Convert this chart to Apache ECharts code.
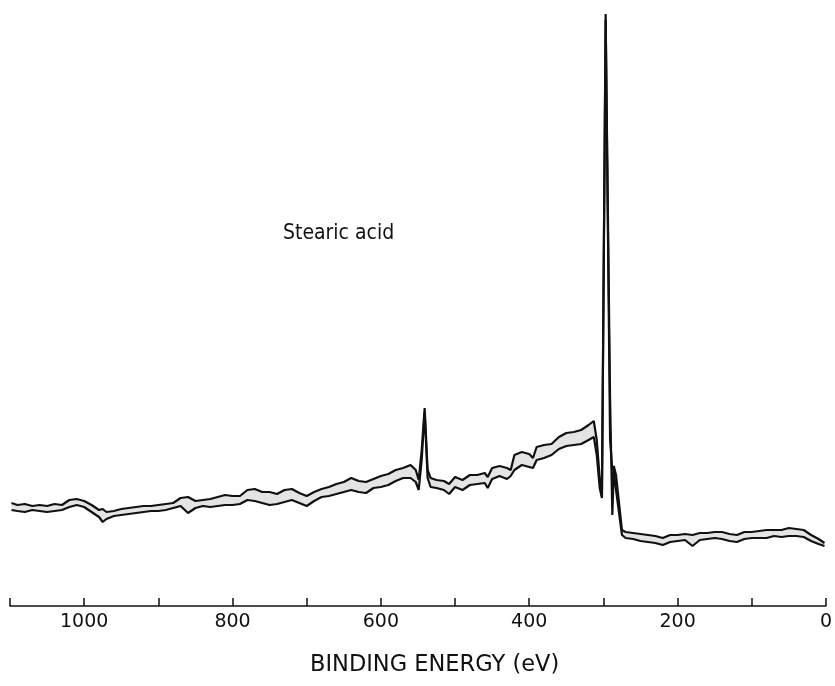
<!DOCTYPE html>
<html>
<head>
<meta charset="utf-8">
<script src="https://cdn.jsdelivr.net/npm/echarts@6/dist/echarts.min.js"></script>
<style>html,body{margin:0;padding:0;background:#fff}#c{width:835px;height:686px}</style>
</head>
<body>
<div id="c"></div>
<script>
// Binding energy (eV)
var energy = [1098,1090,1080,1070,1060,1050,1040,1030,1020,1010,1000,990,980,975,970,960,950,940,930,920,910,900,890,880,870,860,850,840,830,820,810,800,790,780,770,760,750,740,730,720,710,700,690,680,670,660,650,640,630,620,610,600,590,580,570,560,553,549,545,541,537,533,525,515,508,500,490,480,470,460,456,450,440,430,425,420,410,400,395,390,380,370,360,350,340,330,320,313,309,305,302,297,291,288,286,283,275,270,260,250,240,230,220,210,200,190,180,170,160,150,140,130,120,110,100,90,80,70,60,50,40,30,20,10,2];
// Upper trace intensity (arb. units)
var upper = [103,101,102,100,101,100,102,101,106,107,105,101,96,97,94,95,97,98,99,100,100,101,102,103,108,109,105,106,107,109,111,110,110,116,117,114,114,112,116,117,113,110,114,117,119,122,124,128,125,124,127,130,132,136,138,141,136,126,156,198,136,128,126,125,122,129,126,131,131,133,129,138,140,138,136,151,154,152,148,159,161,162,169,173,174,176,181,185,166,128,110,592,166,136,140,131,76,74,73,72,71,70,68,71,71,72,71,73,73,74,74,72,71,74,74,75,76,76,76,78,77,76,71,67,63];
// Lower trace intensity (arb. units)
var lower = [96,95,94,96,95,94,95,96,99,101,99,94,89,84,87,90,91,92,93,94,95,95,96,98,100,93,98,100,99,100,101,101,102,106,105,103,101,102,104,106,103,100,105,109,110,112,114,116,114,113,118,119,121,125,128,128,124,116,146,194,128,119,118,116,112,119,116,121,122,123,118,127,130,127,130,136,141,139,138,146,148,151,157,160,161,162,166,169,151,118,108,586,206,91,136,116,71,68,67,65,64,63,61,64,65,66,60,66,67,68,67,65,64,67,68,68,68,70,69,70,70,69,65,62,60];
var xTicks = [1000,800,600,400,200,0];
var annotation = 'Stearic acid';
var axisTitle = 'BINDING ENERGY (eV)';

var upperPts = energy.map(function(e,i){return [e, upper[i]];});
var lowerPts = energy.map(function(e,i){return [e, lower[i]];});

var chart = echarts.init(document.getElementById('c'));
var font = '"DejaVu Sans", sans-serif';
var condFont = '"DejaVu Sans Condensed", "Liberation Sans Narrow", sans-serif';
var lineSt = {color: '#111', width: 2.2};
chart.setOption({
  animation: false,
  backgroundColor: '#fff',
  grid: {left: 10, right: 3, top: 0, bottom: 80},
  xAxis: {
    type: 'value', inverse: true, min: 0, max: 1100, interval: 100, z: 10,
    axisLine: {lineStyle: {color: '#111', width: 1.5}},
    axisTick: {inside: true, length: 8, lineStyle: {color: '#111', width: 1.5}},
    axisLabel: {color: '#111', fontSize: 19, fontFamily: font, margin: 7,
      formatter: function(v){return xTicks.indexOf(v) >= 0 ? String(v) : '';}},
    splitLine: {show: false}
  },
  yAxis: {type: 'value', min: 0, max: 606, show: false},
  graphic: [
    {type: 'text', left: 283, top: 223,
     style: {text: annotation, fill: '#111', fontSize: 21, fontFamily: condFont}},
    {type: 'text', left: 310, top: 654,
     style: {text: axisTitle, fill: '#111', fontSize: 22.5, fontFamily: font}}
  ],
  series: [
    {type: 'custom', data: [[0, 0]], z: 1, silent: true,
     renderItem: function(params, api) {
       var pts = [];
       for (var i = 0; i < energy.length; i++) pts.push(api.coord([energy[i], upper[i]]));
       for (var j = energy.length - 1; j >= 0; j--) pts.push(api.coord([energy[j], lower[j]]));
       return {type: 'polygon', shape: {points: pts}, style: {fill: '#e4e4e4', stroke: null}};
     }},
    {type: 'line', data: lowerPts, symbol: 'none', z: 3, lineStyle: lineSt},
    {type: 'line', data: upperPts, symbol: 'none', z: 3, lineStyle: lineSt}
  ]
});
</script>
</body>
</html>
